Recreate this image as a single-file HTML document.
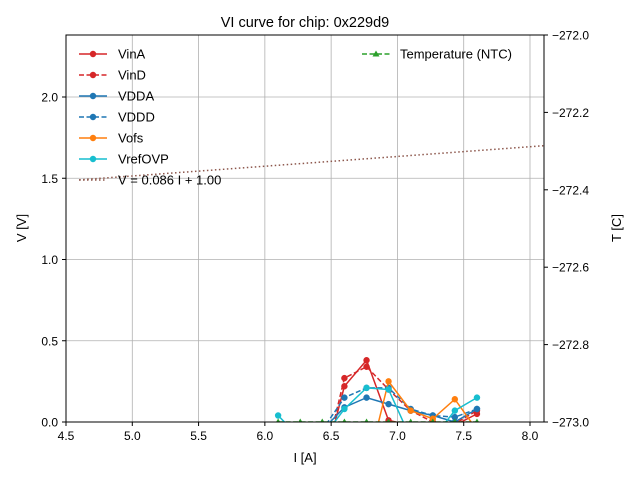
<!DOCTYPE html>
<html><head><meta charset="utf-8"><style>
html,body{margin:0;padding:0;background:#fff;overflow:hidden;width:640px;height:480px}
svg{display:block}
text{font-family:"Liberation Sans","DejaVu Sans",sans-serif;fill:#000}
</style></head><body>
<svg id="c" width="640" height="480" viewBox="0 0 640 480" xmlns="http://www.w3.org/2000/svg">
<defs><clipPath id="pa"><rect x="66" y="35" width="478" height="387"/></clipPath></defs>
<rect x="0" y="0" width="640" height="480" fill="#fff"/>
<text x="305" y="27" font-size="14.5" text-anchor="middle">VI curve for chip: 0x229d9</text>
<g id="grid"></g>
<g id="series" clip-path="url(#pa)"></g>
<rect x="66" y="35" width="478" height="387" fill="none" stroke="#000" stroke-width="1"/>
<g id="axes"></g>
<text x="305" y="462" font-size="13" text-anchor="middle">I [A]</text>
<text transform="translate(26,228) rotate(-90)" font-size="13" text-anchor="middle">V [V]</text>
<text transform="translate(621,228) rotate(-90)" font-size="13" text-anchor="middle">T [C]</text>
<g id="legend"></g>
</svg>
<script>
const xTicks=[4.5,5.0,5.5,6.0,6.5,7.0,7.5,8.0];
const yTicks=[0.0,0.5,1.0,1.5,2.0];
const tTicks=[-273.0,-272.8,-272.6,-272.4,-272.2,-272.0];
const current=[6.1,6.267,6.433,6.6,6.767,6.933,7.1,7.267,7.433,7.6];
const vinA=[-0.3,-0.3,-0.3,0.22,0.38,0.01,-0.02,-0.03,-0.02,0.05];
const vinD=[-0.3,-0.3,-0.3,0.27,0.34,0.20,0.07,0.00,-0.01,0.07];
const vdda=[-0.1,-0.1,-0.05,0.09,0.15,0.11,0.07,0.04,0.00,0.08];
const vddd=[-0.1,-0.1,-0.05,0.15,0.21,0.21,0.08,0.04,0.03,0.08];
const vofs=[-0.3,-0.3,-0.3,-0.3,-0.3,0.25,0.07,0.02,0.14,-0.05];
const vref=[0.04,-0.1,-0.1,0.08,0.21,0.20,-0.1,-0.1,0.07,0.15];
const temp=[-273.0,-273.0,-273.0,-273.0,-273.0,-273.0,-273.0,-273.0,-273.0,-273.0];
const fitI=[4.6,8.1];
const fitV=[1.49,1.70];
const X=v=>66+(v-4.5)*(464/3.5);
const Y=v=>422-v*162.5;
const T=v=>422-(v+273)*387;
const NS="http://www.w3.org/2000/svg";
function mk(tag,attrs,parent){const e=document.createElementNS(NS,tag);for(const k in attrs)e.setAttribute(k,attrs[k]);document.getElementById(parent).appendChild(e);return e;}
xTicks.forEach(t=>{const x=X(t);
 const g=mk('line',{x1:x,x2:x,y1:35,y2:422,stroke:'#b0b0b0','stroke-width':0.8},'grid');
 
 
 mk('line',{x1:x,x2:x,y1:422,y2:426,stroke:'#000'},'axes');
 const l=mk('text',{x:x,y:440,'font-size':12,'text-anchor':'middle'},'axes');l.textContent=t.toFixed(1);
 
 });
yTicks.forEach(t=>{const y=Y(t);
 const g=mk('line',{x1:66,x2:544,y1:y,y2:y,stroke:'#b0b0b0','stroke-width':0.8},'grid');
 
 
 mk('line',{x1:62,x2:66,y1:y,y2:y,stroke:'#000'},'axes');
 const l=mk('text',{x:58,y:y+4.5,'font-size':12,'text-anchor':'end'},'axes');l.textContent=t.toFixed(1);
 
 });
tTicks.forEach(t=>{const y=T(t);
 mk('line',{x1:544,x2:548,y1:y,y2:y,stroke:'#000'},'axes');
 const l=mk('text',{x:552,y:y+4.5,'font-size':12},'axes');l.textContent=t.toFixed(1).replace('-','−');
 
 });
function series(name,vals,color,dash,marker,scale){
 const pts=current.map((c,i)=>[X(c),scale(vals[i])]);
 const p=mk('polyline',{points:pts.map(p=>p.join(',')).join(' '),fill:'none',stroke:color,'stroke-width':1.5,'stroke-dasharray':dash},'series');
 
 
 pts.forEach(q=>{let m;
  if(marker==='tri'){m=mk('polygon',{points:`${q[0]},${q[1]-3.5} ${q[0]-3.5},${q[1]+2.5} ${q[0]+3.5},${q[1]+2.5}`,fill:color},'series');}
  else m=mk('circle',{cx:q[0],cy:q[1],r:3.2,fill:color},'series');
  
  });}
series('vina',vinA,'#d62728','', 'o',Y);
series('vind',vinD,'#d62728','5,2.5','o',Y);
series('vdda',vdda,'#1f77b4','','o',Y);
series('vddd',vddd,'#1f77b4','5,2.5','o',Y);
series('vofs',vofs,'#ff7f0e','','o',Y);
series('vrefovp',vref,'#17becf','','o',Y);
series('temperature',temp,'#2ca02c','5,2.5','tri',T);
const f=mk('line',{x1:X(fitI[0]),y1:Y(fitV[0]),x2:X(fitI[1]),y2:Y(fitV[1]),stroke:'#8c564b','stroke-width':1.5,'stroke-dasharray':'1.5,2.5'},'series');


const leg=[['VinA','#d62728','','o'],['VinD','#d62728','5,2.5','o'],['VDDA','#1f77b4','','o'],['VDDD','#1f77b4','5,2.5','o'],['Vofs','#ff7f0e','','o'],['VrefOVP','#17becf','','o'],['V = 0.086 I + 1.00','#8c564b','1.5,2.5','']];
leg.forEach((e,i)=>{const y=54+i*21;
 mk('line',{x1:79,x2:107,y1:y,y2:y,stroke:e[1],'stroke-width':1.5,'stroke-dasharray':e[2]},'legend');
 if(e[3])mk('circle',{cx:93,cy:y,r:3.2,fill:e[1]},'legend');
 const t=mk('text',{x:118,y:y+4.5,'font-size':13},'legend');t.textContent=e[0];
 
 });
mk('line',{x1:362,x2:390,y1:54,y2:54,stroke:'#2ca02c','stroke-width':1.5,'stroke-dasharray':'5,2.5'},'legend');
mk('polygon',{points:'376,50.5 372.5,56.5 379.5,56.5',fill:'#2ca02c'},'legend');
const tt=mk('text',{x:400,y:58.5,'font-size':13},'legend');tt.textContent='Temperature (NTC)';


</script>
</body></html>
